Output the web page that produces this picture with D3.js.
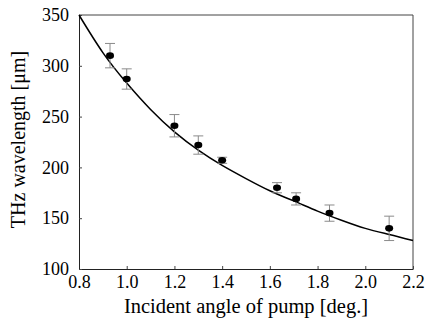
<!DOCTYPE html>
<html>
<head>
<meta charset="utf-8">
<script src="https://cdn.jsdelivr.net/npm/d3@7"></script>
<style>
  body { margin: 0; background: #fff; }
</style>
</head>
<body>
<div id="chart"></div>
<script>
// measured points
const angle = [0.93, 1.00, 1.20, 1.30, 1.40, 1.63, 1.71, 1.85, 2.10];
const wavelength = [310, 287, 241, 222, 207, 180, 169, 155, 140];
const errorBar = [12, 10, 11, 9, 3, 5, 6, 8, 12];

// fitted curve
const fitAngle = [0.8, 0.9, 1.0, 1.1, 1.2, 1.3, 1.4, 1.5, 1.6, 1.7, 1.8, 1.9, 2.0, 2.1, 2.2];
const fitWavelength = [350, 313, 283, 257, 235, 217, 202, 189, 177, 167, 157, 148, 140, 134, 128];

const xTicks = [0.8, 1.0, 1.2, 1.4, 1.6, 1.8, 2.0, 2.2];
const yTicks = [100, 150, 200, 250, 300, 350];

const serif = 'Liberation Serif';

const width = 426, height = 322;
const margin = { top: 15, right: 13, bottom: 53, left: 79 };
const innerWidth = width - margin.left - margin.right;
const innerHeight = height - margin.top - margin.bottom;

const svg = d3.select('#chart').append('svg')
  .attr('width', width)
  .attr('height', height)
  .style('display', 'block');

const g = svg.append('g')
  .attr('transform', `translate(${margin.left},${margin.top})`);

const x = d3.scaleLinear().domain([0.8, 2.2]).range([0, innerWidth]);
const y = d3.scaleLinear().domain([100, 350]).range([innerHeight, 0]);

// frame (top/right)
g.append('path')
  .attr('d', `M0,0H${innerWidth}V${innerHeight}`)
  .attr('fill', 'none')
  .attr('stroke', '#444')
  .attr('stroke-width', 1);

const xAxis = g.append('g')
  .attr('transform', `translate(0,${innerHeight})`)
  .call(d3.axisBottom(x).tickValues(xTicks).tickFormat(d3.format('.1f'))
    .tickSizeInner(-3).tickSizeOuter(0).tickPadding(6));

const yAxis = g.append('g')
  .call(d3.axisLeft(y).tickValues(yTicks).tickSizeInner(-3).tickSizeOuter(0).tickPadding(10));

[xAxis, yAxis].forEach(ax => {
  ax.attr('font-family', serif).attr('font-size', 18);
  ax.selectAll('text').attr('fill', '#000');
});

g.selectAll('.domain').attr('stroke', '#222');
g.selectAll('.tick line').attr('stroke', '#444');

// fit line
const fit = fitAngle.map((a, i) => ({ a, w: fitWavelength[i] }));
g.append('path')
  .datum(fit)
  .attr('fill', 'none')
  .attr('stroke', '#000')
  .attr('stroke-width', 1.5)
  .attr('d', d3.line().x(d => x(d.a)).y(d => y(d.w)).curve(d3.curveNatural));

const pts = angle.map((a, i) => ({ a, w: wavelength[i], e: errorBar[i] }));

// error bars
const eb = g.selectAll('.err').data(pts).enter().append('g')
  .attr('class', 'err')
  .attr('stroke', '#8a8a8a')
  .attr('stroke-width', 1);
eb.append('line')
  .attr('x1', d => x(d.a)).attr('x2', d => x(d.a))
  .attr('y1', d => y(d.w + d.e)).attr('y2', d => y(d.w - d.e));
eb.append('line')
  .attr('x1', d => x(d.a) - 5).attr('x2', d => x(d.a) + 5)
  .attr('y1', d => y(d.w + d.e)).attr('y2', d => y(d.w + d.e));
eb.append('line')
  .attr('x1', d => x(d.a) - 5).attr('x2', d => x(d.a) + 5)
  .attr('y1', d => y(d.w - d.e)).attr('y2', d => y(d.w - d.e));

// points
g.selectAll('.pt').data(pts).enter().append('ellipse')
  .attr('class', 'pt')
  .attr('cx', d => x(d.a))
  .attr('cy', d => y(d.w))
  .attr('rx', 4)
  .attr('ry', 3.3)
  .attr('fill', '#000');

// axis titles
svg.append('text')
  .attr('x', margin.left + innerWidth / 2)
  .attr('y', 313)
  .attr('text-anchor', 'middle')
  .attr('font-family', serif)
  .attr('font-size', 20.5)
  .text('Incident angle of pump [deg.]');

svg.append('text')
  .attr('transform', 'translate(25,139.5) rotate(-90)')
  .attr('text-anchor', 'middle')
  .attr('font-family', serif)
  .attr('font-size', 20)
  .text('THz wavelength [μm]');
</script>
</body>
</html>
